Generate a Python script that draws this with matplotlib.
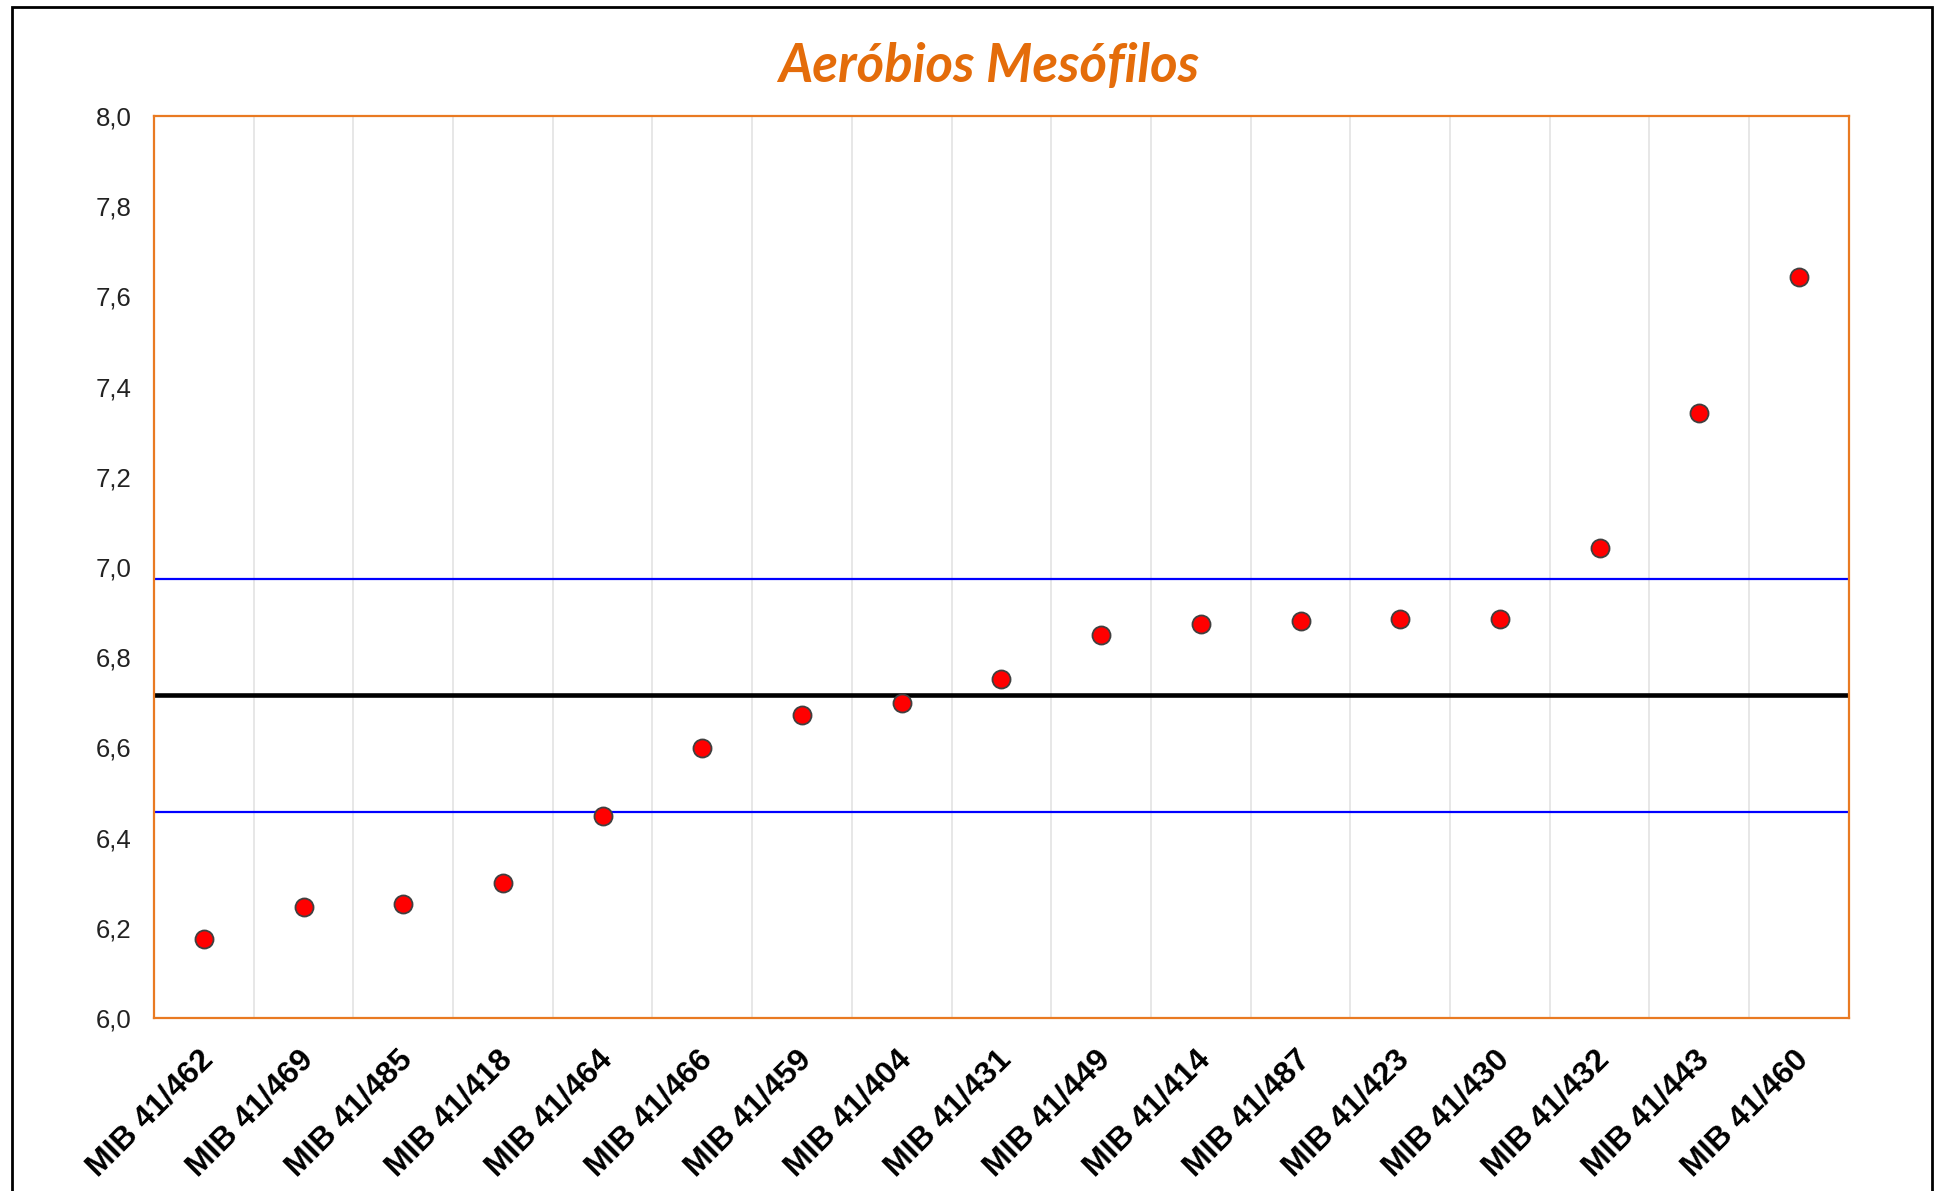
import numpy as np
import matplotlib
matplotlib.use('Agg')
import matplotlib.pyplot as plt
import matplotlib.transforms as mtransforms
from matplotlib.patches import Rectangle

# amostras e contagens (log ufc/g)
amostras = ['MIB 41/462', 'MIB 41/469', 'MIB 41/485', 'MIB 41/418', 'MIB 41/464',
            'MIB 41/466', 'MIB 41/459', 'MIB 41/404', 'MIB 41/431', 'MIB 41/449',
            'MIB 41/414', 'MIB 41/487', 'MIB 41/423', 'MIB 41/430', 'MIB 41/432',
            'MIB 41/443', 'MIB 41/460']
valores = [6.175, 6.245, 6.253, 6.299, 6.448, 6.598, 6.672, 6.699, 6.751, 6.850,
           6.874, 6.880, 6.884, 6.884, 7.041, 7.342, 7.642]

media = 6.716
lim_sup = 6.974
lim_inf = 6.457

y_ticks = [6.0, 6.2, 6.4, 6.6, 6.8, 7.0, 7.2, 7.4, 7.6, 7.8, 8.0]

LARANJA = '#E46C0A'

fig = plt.figure(figsize=(19.34, 11.91), dpi=100)
ax = fig.add_axes([0.0796, 0.1453, 0.8764, 0.7573])

x = np.arange(len(amostras))

ax.axhline(lim_sup, color='#0000FF', linewidth=1.6, zorder=2)
ax.axhline(lim_inf, color='#0000FF', linewidth=1.6, zorder=2)
ax.axhline(media, color='black', linewidth=3.3, zorder=2)

ax.plot(x, valores, 'o', markersize=13, markerfacecolor='#FF0000',
        markeredgecolor='#404040', markeredgewidth=1.3, linestyle='none', zorder=3)

ax.set_xlim(-0.5, len(amostras) - 0.5)
ax.set_ylim(6.0, 8.0)

# grelha vertical entre categorias
ax.set_xticks(x[:-1] + 0.5, minor=True)
ax.grid(which='minor', axis='x', color='#E3E3E3', linewidth=1.2)
ax.tick_params(which='minor', length=0)
ax.set_axisbelow(True)

ax.set_xticks(x)
ax.set_xticklabels(amostras, rotation=45, ha='right', va='center',
                   rotation_mode='anchor', fontsize=23, fontweight='bold',
                   family='Liberation Sans')
ax.tick_params(axis='x', length=0, pad=27)
desloc = mtransforms.ScaledTranslation(5 / 100, 0, fig.dpi_scale_trans)
for lbl in ax.get_xticklabels():
    lbl.set_transform(lbl.get_transform() + desloc)

ax.set_yticks(y_ticks)
ax.set_yticklabels([f'{v:.1f}'.replace('.', ',') for v in y_ticks],
                   fontsize=18.5, family='Liberation Sans', color='#222222')
ax.tick_params(axis='y', length=0, pad=16)

for s in ax.spines.values():
    s.set_color('#E97A22')
    s.set_linewidth(1.6)

fig.text(0.511, 0.944, 'Aeróbios Mesófilos', fontsize=38, fontweight='bold',
         fontstyle='italic', color=LARANJA, family='Lato', ha='center', va='center')

# moldura exterior
fig.patches.append(Rectangle((12 / 1934, -0.1), 1920 / 1934, 1.1 - 7 / 1191,
                             transform=fig.transFigure, fill=False,
                             edgecolor='black', linewidth=2.0))

fig.savefig('out.png', dpi=100)
